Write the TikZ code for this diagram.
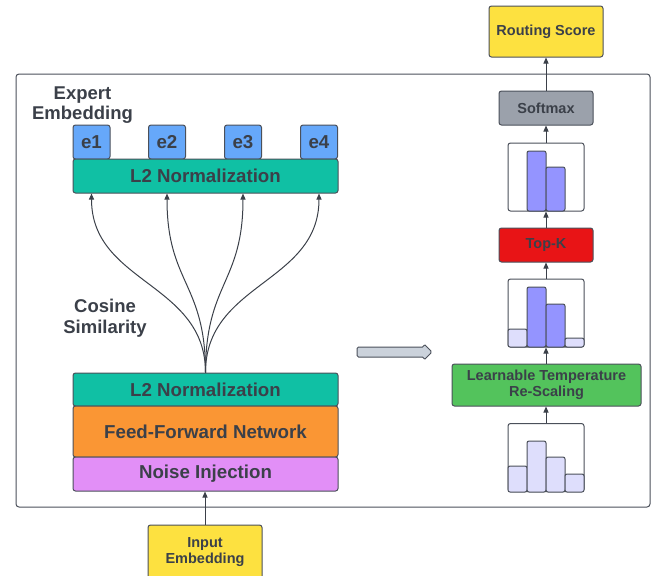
\documentclass[tikz,border=0pt]{standalone}
\usepackage{fontspec}
\setmainfont{Liberation Sans}
\usetikzlibrary{arrows.meta,positioning}
\definecolor{ink}{HTML}{3B4049}
\definecolor{edge}{HTML}{4B505A}
\definecolor{teal}{HTML}{10C0A4}
\definecolor{expblue}{HTML}{66A8FA}
\definecolor{ffnorange}{HTML}{FA9634}
\definecolor{noiseviolet}{HTML}{E28FF7}
\definecolor{ioyellow}{HTML}{FDE140}
\definecolor{softgray}{HTML}{9BA1AB}
\definecolor{topkred}{HTML}{E81416}
\definecolor{tempgreen}{HTML}{53C35C}
\definecolor{barlo}{HTML}{DEDEFC}
\definecolor{barhi}{HTML}{9494FF}
\definecolor{shiftgray}{HTML}{CBD2DB}
\tikzset{blk/.style={draw=edge, line width=1pt, rounded corners=2.5pt, text=ink, inner sep=0pt, align=center, font=\bfseries\fontsize{18.7}{21}\selectfont}, sblk/.style={blk, font=\bfseries\fontsize{14.5}{16.5}\selectfont}, flow/.style={-{Triangle[length=6pt,width=5pt]}, line width=1pt, draw=ink}, hist/.style={draw=edge, fill=white, line width=1pt, rounded corners=2.5pt, minimum width=76pt, minimum height=68pt}, bar/.style={draw=edge, line width=1pt, rounded corners=2pt}, lab/.style={text=ink, align=center, font=\bfseries\fontsize{18.5}{20.5}\selectfont}}

\begin{document}
\begin{tikzpicture}[x=1pt,y=-1pt]
\useasboundingbox (0,0) rectangle (670,576);
\draw[draw=edge, line width=1pt, rounded corners=3pt] (16,74) rectangle (650,507);
% left branch: experts and token path
\node[lab] (explab) at (82.5,105) {Expert\\Embedding};
\foreach \i/\x in {1/91.5,2/167,3/243,4/319} \node[blk, fill=expblue, minimum width=37pt, minimum height=34pt] (e\i) at (\x,142) {e\i};
\node[blk, fill=teal, minimum width=265pt, minimum height=34pt] (l2top) at (205.5,176) {L2 Normalization};
\node[lab] (coslab) at (105,318) {Cosine\\Similarity};
\node[blk, fill=teal, minimum width=265pt, minimum height=33pt] (l2bot) at (205.5,389.5) {L2 Normalization};
\node[blk, fill=ffnorange, minimum width=265pt, minimum height=51pt] (ffn) at (205.5,431.5) {Feed-Forward Network};
\node[blk, fill=noiseviolet, minimum width=265pt, minimum height=34pt] (noise) at (205.5,474) {Noise Injection};
\node[sblk, fill=ioyellow, minimum width=114pt, minimum height=54pt] (input) at (205,552) {Input\\Embedding};
\draw[flow] (input.north) -- (input.north |- noise.south);
\foreach \i in {1,...,4} \draw[flow] (l2bot.north) .. controls +(0,-90) and +(0,90) .. (e\i |- l2top.south);
% shift to the right branch
\draw[fill=shiftgray, draw=edge, line width=1pt, rounded corners=1.5pt] (357,347) -- (424,347) -- (424,344) -- (432,352) -- (424,360) -- (424,357) -- (357,357) -- cycle;
% right branch: scores
\node[hist] (h3) at (546,457.5) {};
\draw[bar, fill=barlo] (508,466) rectangle (527,492); \draw[bar, fill=barlo] (527,441) rectangle (546,492); \draw[bar, fill=barlo] (546,457) rectangle (565,492); \draw[bar, fill=barlo] (565,474) rectangle (584,492);
\node[sblk, fill=tempgreen, minimum width=189pt, minimum height=42pt] (temp) at (546.5,385) {Learnable Temperature\\Re-Scaling};
\node[hist] (h2) at (546,313) {};
\draw[bar, fill=barlo] (508,329) rectangle (527,347); \draw[bar, fill=barhi] (527,287) rectangle (546,347); \draw[bar, fill=barhi] (546,304) rectangle (565,347); \draw[bar, fill=barlo] (565,338) rectangle (584,347);
\node[sblk, fill=topkred, minimum width=94pt, minimum height=34pt] (topk) at (546,245) {Top-K};
\node[hist] (h1) at (546,177) {};
\draw[bar, fill=barhi] (527,151) rectangle (546,211); \draw[bar, fill=barhi] (546,167) rectangle (565,211);
\node[sblk, fill=softgray, minimum width=94pt, minimum height=34pt] (softmax) at (546,108) {Softmax};
\node[sblk, fill=ioyellow, minimum width=114pt, minimum height=51pt] (route) at (546,31.5) {Routing Score};
\draw[flow] (h3.north) -- (h3.north |- temp.south);
\draw[flow] (h2.south |- temp.north) -- (h2.south);
\draw[flow] (h2.north) -- (topk.south);
\draw[flow] (topk.north) -- (h1.south);
\draw[flow] (h1.north) -- (softmax.south);
\draw[flow] (softmax.north) -- (route.south);
\end{tikzpicture}
\end{document}
